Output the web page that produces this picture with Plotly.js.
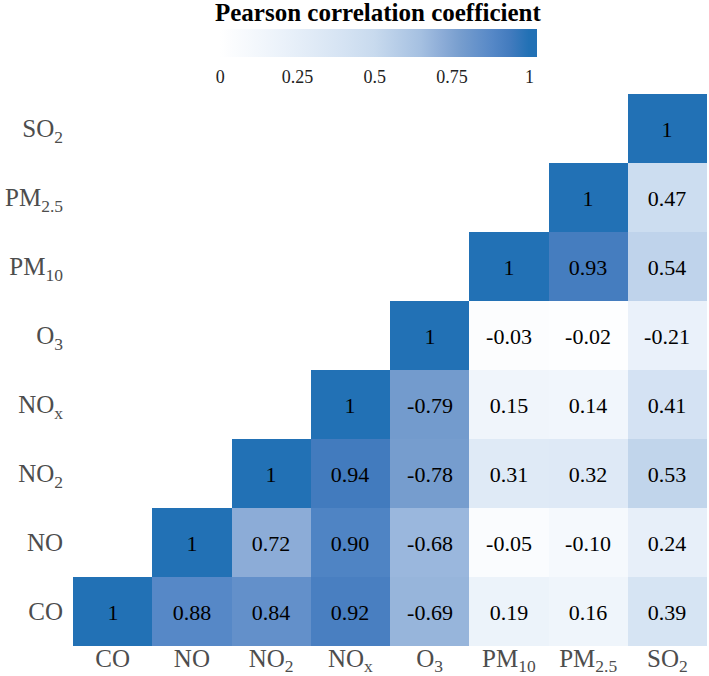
<!DOCTYPE html>
<html>
<head>
<meta charset="utf-8">
<script src="https://cdn.plot.ly/plotly-3.0.1.min.js"></script>
<style>html,body{margin:0;padding:0;background:#fff;}#chart{width:709px;height:676px;}</style>
</head>
<body>
<div id="chart"></div>
<script>
// Variables (bottom to top on y, left to right on x)
const variables = ["CO", "NO", "NO2", "NOx", "O3", "PM10", "PM2.5", "SO2"];
const tickLabels = ["CO", "NO", "NO<sub>2</sub>", "NO<sub>x</sub>", "O<sub>3</sub>", "PM<sub>10</sub>", "PM<sub>2.5</sub>", "SO<sub>2</sub>"];

// Correlation rows (null = hidden upper triangle)
const rowCO   = [1, 0.88, 0.84, 0.92, -0.69, 0.19, 0.16, 0.39];
const rowNO   = [null, 1, 0.72, 0.90, -0.68, -0.05, -0.10, 0.24];
const rowNO2  = [null, null, 1, 0.94, -0.78, 0.31, 0.32, 0.53];
const rowNOx  = [null, null, null, 1, -0.79, 0.15, 0.14, 0.41];
const rowO3   = [null, null, null, null, 1, -0.03, -0.02, -0.21];
const rowPM10 = [null, null, null, null, null, 1, 0.93, 0.54];
const rowPM25 = [null, null, null, null, null, null, 1, 0.47];
const rowSO2  = [null, null, null, null, null, null, null, 1];

const colorbarTicks = [0, 0.25, 0.5, 0.75, 1];

const FONT = "Liberation Serif";

const rows = [rowCO, rowNO, rowNO2, rowNOx, rowO3, rowPM10, rowPM25, rowSO2];
const zAbs = rows.map(r => r.map(v => v === null ? null : Math.abs(v)));
const txt = rows.map(r => r.map(v => v === null ? "" : (v === 1 ? "1" : v.toFixed(2))));

const zmin = -0.022, zmax = 1.026;
const stops = [
  [zmin, "rgb(255,255,255)"],
  [0.0, "rgb(255,255,255)"],
  [0.2, "rgb(235,242,250)"],
  [0.4, "rgb(213,227,243)"],
  [0.5, "rgb(200,218,238)"],
  [0.65, "rgb(165,192,225)"],
  [0.72, "rgb(140,172,215)"],
  [0.78, "rgb(118,157,206)"],
  [0.88, "rgb(86,136,199)"],
  [0.94, "rgb(66,123,190)"],
  [1.0, "rgb(34,113,181)"],
  [zmax, "rgb(34,113,181)"]
];
const colorscale = stops.map(s => [(s[0] - zmin) / (zmax - zmin), s[1]]);

const trace = {
  type: "heatmap",
  x: variables,
  y: variables,
  z: zAbs,
  text: txt,
  texttemplate: "%{text}",
  textfont: {family: FONT, size: 22, color: "#000"},
  zmin: zmin,
  zmax: zmax,
  colorscale: colorscale,
  hoverinfo: "skip",
  colorbar: {
    orientation: "h",
    lenmode: "pixels",
    len: 324,
    thickness: 28,
    thicknessmode: "pixels",
    x: 0.477,
    xanchor: "center",
    y: 1.1175,
    yanchor: "top",
    outlinewidth: 0,
    tickvals: colorbarTicks,
    ticktext: ["0", "0.25", "0.5", "0.75", "1"],
    ticks: "outside",
    ticklen: 5,
    tickcolor: "rgba(0,0,0,0)",
    tickfont: {family: FONT, size: 18, color: "#222"},
    xpad: 0, ypad: 0
  }
};

const layout = {
  width: 709,
  height: 676,
  margin: {l: 73, r: 2, t: 94, b: 30},
  paper_bgcolor: "#fff",
  plot_bgcolor: "#fff",
  font: {family: FONT},
  title: {
    text: "<b>Pearson correlation coefficient</b>",
    font: {family: FONT, size: 25, color: "#000"},
    xref: "container", yref: "container",
    x: 0.533, xanchor: "center",
    y: 0.982, yanchor: "middle"
  },
  xaxis: {
    type: "category",
    tickvals: variables, ticktext: tickLabels,
    showgrid: false, zeroline: false, showline: false,
    ticks: "",
    ticklabelstandoff: -5,
    tickfont: {family: FONT, size: 25, color: "#4d4d4d"},
    automargin: false
  },
  yaxis: {
    type: "category",
    tickvals: variables, ticktext: tickLabels,
    showgrid: false, zeroline: false, showline: false,
    ticks: "outside", ticklen: 4, tickcolor: "rgba(0,0,0,0)",
    tickfont: {family: FONT, size: 25, color: "#4d4d4d"},
    automargin: false
  },
  showlegend: false
};

Plotly.newPlot("chart", [trace], layout, {displayModeBar: false, staticPlot: true});
</script>
</body>
</html>
